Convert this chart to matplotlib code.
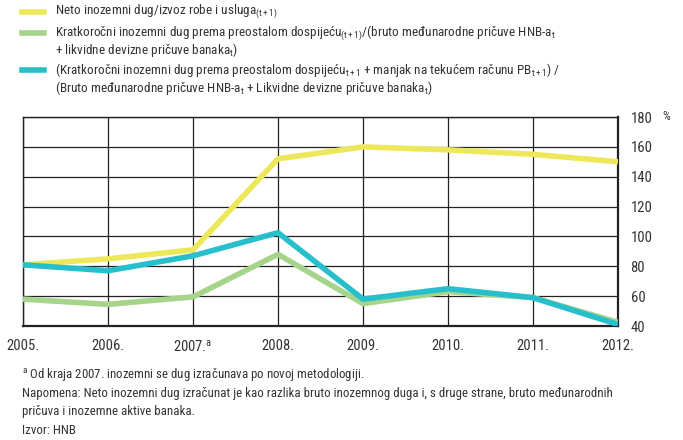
import matplotlib
matplotlib.use("Agg")
import matplotlib.pyplot as plt
from matplotlib import font_manager

names = {f.name for f in font_manager.fontManager.ttflist}
FONT = "DejaVu Sans"
for cand in ["Roboto Condensed", "Archivo Narrow", "PT Sans Narrow", "Liberation Sans Narrow"]:
    if cand in names:
        FONT = cand
        break
plt.rcParams['font.family'] = [FONT, 'DejaVu Sans']
plt.rcParams['mathtext.fontset'] = 'custom'
plt.rcParams['mathtext.rm'] = FONT
plt.rcParams['mathtext.it'] = FONT
plt.rcParams['mathtext.default'] = 'regular'

years = ["2005.", "2006.", "2007.", "2008.", "2009.", "2010.", "2011.", "2012."]
neto_dug = [81, 85, 91, 152, 160, 158, 155, 150]
kratkorocni = [58, 54.5, 59.5, 88, 55, 63, 59, 42.5]
kratk_manjak = [81, 77, 87, 102.5, 58, 65, 59, 41]
yticks = [40, 60, 80, 100, 120, 140, 160, 180]

YELLOW = "#ECE85A"
GREEN = "#A5D48A"
TEAL = "#27BFCB"
TXT = "#333333"

fig = plt.figure(figsize=(6.83, 4.40), dpi=100)
W, H = 683, 440
ax = fig.add_axes([23/W, 1-326/H, (618-23)/W, (326-117)/H])

x = list(range(len(years)))
lw = 4.0
ax.plot(x, neto_dug, color=YELLOW, lw=lw, solid_capstyle='butt', zorder=3)
ax.plot(x, kratkorocni, color=GREEN, lw=lw, solid_capstyle='butt', zorder=4)
ax.plot(x, kratk_manjak, color=TEAL, lw=lw, solid_capstyle='butt', zorder=5)

ax.set_xlim(0, len(years)-1)
ax.set_ylim(40, 180)
ax.set_yticks(yticks)
ax.set_xticks(x)
ax.grid(True, color="#222222", lw=0.9)
ax.set_axisbelow(True)
for s in ax.spines.values():
    s.set_color("#222222")
    s.set_linewidth(1.0)
ax.spines['bottom'].set_linewidth(1.6)
ax.spines['right'].set_linewidth(1.6)
ax.yaxis.tick_right()
ax.tick_params(axis='y', length=0, pad=9, labelsize=10.5, labelcolor=TXT)
ax.tick_params(axis='x', length=0, pad=9, labelsize=10.5, labelcolor=TXT)
labels = [y if y != "2007." else "2007.$^{a}$" for y in years]
ax.set_xticklabels(labels)
fig.text(666/W, 1-116/H, "%", fontsize=9, color=TXT, ha='center', va='center')

# legend
fs = 9.5
def swatch(y, color):
    fig.add_artist(plt.Line2D([22/W, 44/W], [1-y/H, 1-y/H], color=color, lw=4, transform=fig.transFigure))

swatch(12, YELLOW)
fig.text(55/W, 1-12/H, "Neto inozemni dug/izvoz robe i usluga$_{(t+1)}$", fontsize=fs, color=TXT, va='center')
swatch(33, GREEN)
fig.text(55/W, 1-33/H, "Kratkoročni inozemni dug prema preostalom dospijeću$_{(t+1)}$/(bruto međunarodne pričuve HNB-a$_{t}$", fontsize=fs, color=TXT, va='center')
fig.text(55/W, 1-50/H, "+ likvidne devizne pričuve banaka$_{t}$)", fontsize=fs, color=TXT, va='center')
swatch(70, TEAL)
fig.text(55/W, 1-70/H, "(Kratkoročni inozemni dug prema preostalom dospijeću$_{t+1}$ + manjak na tekućem računu PB$_{t+1}$) /", fontsize=fs, color=TXT, va='center')
fig.text(55/W, 1-88/H, "(Bruto međunarodne pričuve HNB-a$_{t}$ + Likvidne devizne pričuve banaka$_{t}$)", fontsize=fs, color=TXT, va='center')

# footnotes
ffs = 9.25
fig.text(22/W, 1-374/H, "$^{a}$ Od kraja 2007. inozemni se dug izračunava po novoj metodologiji.", fontsize=ffs, color=TXT, va='center')
fig.text(22/W, 1-393/H, "Napomena: Neto inozemni dug izračunat je kao razlika bruto inozemnog duga i, s druge strane, bruto međunarodnih", fontsize=ffs, color=TXT, va='center')
fig.text(22/W, 1-411/H, "pričuva i inozemne aktive banaka.", fontsize=ffs, color=TXT, va='center')
fig.text(22/W, 1-430/H, "Izvor: HNB", fontsize=ffs, color=TXT, va='center')

fig.savefig("out.png", dpi=100)
